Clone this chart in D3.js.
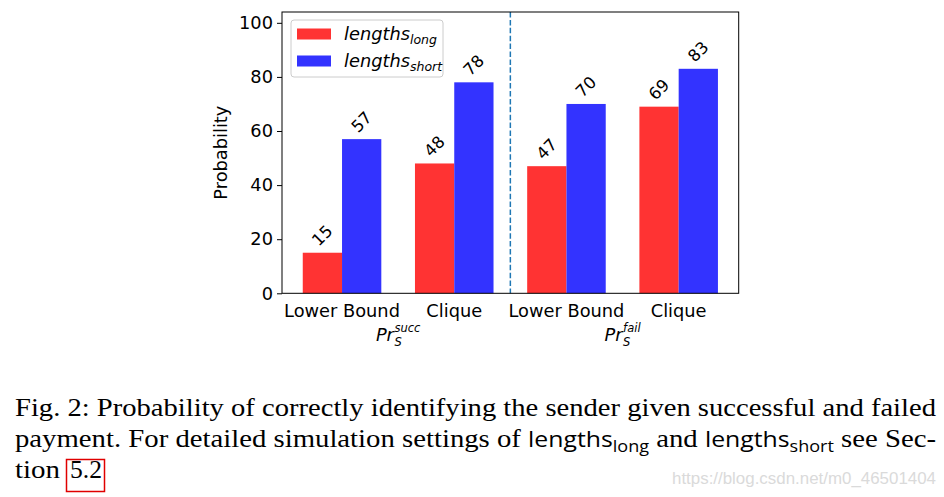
<!DOCTYPE html>
<html><head><meta charset="utf-8">
<script src="https://cdn.jsdelivr.net/npm/d3@7"></script>
<style>body{margin:0;background:#fff} svg{display:block}</style>
</head><body><svg id="c" width="944" height="497"></svg>
<script>
// ---- data ----
const categories = ["Lower Bound", "Clique", "Lower Bound", "Clique"];
const groupSup = ["succ", "fail"];
const seriesNames = ["long", "short"];
const seriesLong = [15, 48, 47, 69];
const seriesShort = [57, 78, 70, 83];
const yTicks = [0, 20, 40, 60, 80, 100];
const dividerAt = [1.5];
const captionLine1 = "Fig. 2: Probability of correctly identifying the sender given successful and failed";
const captionLine3a = "tion";
const captionLine3b = "5.2";
const watermark = "https://blog.csdn.net/m0_46501404";

// ---- layout ----
const svg = d3.select("#c");
const F = "DejaVu Sans, sans-serif";
const SERIF = "Liberation Serif, serif";
const x = d3.scaleLinear().domain([-0.535, 3.535]).range([282, 738.7]);
const y = d3.scaleLinear().domain([0, 104]).range([293.3, 12]);
const barW = 0.35;

const series = [
  {name: seriesNames[0], values: seriesLong, color: "#ff3333", off: -barW},
  {name: seriesNames[1], values: seriesShort, color: "#3333ff", off: 0}
];

series.forEach(s => {
  svg.append("g").selectAll("rect").data(s.values).join("rect")
    .attr("x", (d, i) => x(i + s.off))
    .attr("width", x(barW) - x(0))
    .attr("y", d => y(d))
    .attr("height", d => y(0) - y(d))
    .attr("fill", s.color);
  svg.append("g").selectAll("text").data(s.values).join("text")
    .attr("transform", (d, i) => `translate(${x(i + s.off + barW / 2)},${y(d) - 17}) rotate(-45)`)
    .attr("text-anchor", "middle")
    .attr("dominant-baseline", "central")
    .attr("font-family", F).attr("font-size", 16.5).attr("fill", "#000")
    .text(d => d);
});

// divider
svg.append("g").selectAll("line").data(dividerAt).join("line")
  .attr("x1", d => x(d)).attr("x2", d => x(d))
  .attr("y1", y.range()[1]).attr("y2", y.range()[0])
  .attr("stroke", "#1f77b4").attr("stroke-width", 1.5)
  .attr("stroke-dasharray", "5.5,2.4");

// frame
svg.append("rect")
  .attr("x", x.range()[0]).attr("y", y.range()[1])
  .attr("width", x.range()[1] - x.range()[0]).attr("height", y.range()[0] - y.range()[1])
  .attr("fill", "none").attr("stroke", "#000").attr("stroke-width", 1);

// y axis
const ya = svg.append("g").attr("transform", `translate(${x.range()[0]},0)`)
  .call(d3.axisLeft(y).tickValues(yTicks).tickSize(5).tickPadding(4));
ya.select(".domain").remove();
ya.selectAll("text").attr("font-family", F).attr("font-size", 17.8).attr("fill", "#000");
ya.selectAll("line").attr("stroke", "#000");

svg.append("text")
  .attr("transform", `translate(227,${(y.range()[0] + y.range()[1]) / 2}) rotate(-90)`)
  .attr("text-anchor", "middle")
  .attr("font-family", F).attr("font-size", 17.8)
  .text("Probability");

// x tick labels
svg.append("g").selectAll("text").data(categories).join("text")
  .attr("x", (d, i) => x(i)).attr("y", 316.5)
  .attr("text-anchor", "middle")
  .attr("font-family", F).attr("font-size", 17.8)
  .text(d => d);

// group labels Pr_S^{sup} as one text element
groupSup.forEach((sup, g) => {
  const cx = x(2 * g + 0.5);
  const grp = svg.append("g");
  const t = grp.append("text").attr("x", 0).attr("y", 340.5)
    .attr("font-family", F).attr("font-style", "italic").attr("font-size", 17.8);
  const pr = t.append("tspan").text("Pr");
  const w = pr.node().getComputedTextLength() + 0.5;
  t.append("tspan").attr("x", w).attr("dy", 5).attr("font-size", 11.5).text("S");
  const sp = t.append("tspan").attr("x", w).attr("dy", -14).attr("font-size", 11.5).text(sup);
  const total = w + sp.node().getComputedTextLength();
  grp.attr("transform", `translate(${cx - total / 2},0)`);
});

// legend
const lg = svg.append("g");
lg.append("rect").attr("x", 291).attr("y", 20).attr("width", 152).attr("height", 57)
  .attr("rx", 3).attr("fill", "#fff").attr("fill-opacity", 0.8)
  .attr("stroke", "#cccccc").attr("stroke-width", 1);
series.forEach((s, i) => {
  const cy = 34 + i * 27;
  lg.append("rect").attr("x", 297).attr("y", cy - 5.5).attr("width", 34).attr("height", 11).attr("fill", s.color);
  const t = lg.append("text").attr("x", 344).attr("y", cy + 6)
    .attr("font-family", F).attr("font-style", "italic").attr("font-size", 17.8);
  t.append("tspan").text("lengths");
  t.append("tspan").attr("font-size", 12.5).attr("dy", 4).text(s.name);
});

// caption
svg.append("text").attr("x", 15).attr("y", 416)
  .attr("font-family", SERIF).attr("font-size", 25.5)
  .attr("textLength", 921).attr("lengthAdjust", "spacingAndGlyphs")
  .text(captionLine1);

const SANS2 = "Open Sans, DejaVu Sans, sans-serif";
const l2 = svg.append("text").attr("x", 15).attr("y", 447)
  .attr("font-family", SERIF).attr("font-size", 25.5)
  .attr("textLength", 921).attr("lengthAdjust", "spacingAndGlyphs");
l2.append("tspan").text("payment. For detailed simulation settings of ");
l2.append("tspan").attr("font-family", SANS2).attr("font-size", 22).text("lengths");
l2.append("tspan").attr("font-family", SANS2).attr("font-size", 16).attr("dy", 5).text(seriesNames[0]);
l2.append("tspan").attr("dy", -5).text(" and ");
l2.append("tspan").attr("font-family", SANS2).attr("font-size", 22).text("lengths");
l2.append("tspan").attr("font-family", SANS2).attr("font-size", 16).attr("dy", 5).text(seriesNames[1]);
l2.append("tspan").attr("dy", -5).text(" see Sec-");

svg.append("text").attr("x", 15).attr("y", 478)
  .attr("font-family", SERIF).attr("font-size", 25.5)
  .attr("textLength", 45).attr("lengthAdjust", "spacingAndGlyphs").text(captionLine3a);
svg.append("text").attr("x", 70).attr("y", 478)
  .attr("font-family", SERIF).attr("font-size", 25.5)
  .attr("textLength", 32).attr("lengthAdjust", "spacingAndGlyphs").text(captionLine3b);
svg.append("rect").attr("x", 66.5).attr("y", 459.5).attr("width", 38).attr("height", 32)
  .attr("fill", "none").attr("stroke", "#e00000").attr("stroke-width", 1.5);

svg.append("text").attr("x", 672).attr("y", 484)
  .attr("font-family", "Liberation Sans, sans-serif").attr("font-size", 16)
  .attr("fill", "#dadada")
  .attr("textLength", 264).attr("lengthAdjust", "spacingAndGlyphs").text(watermark);
</script></body></html>
